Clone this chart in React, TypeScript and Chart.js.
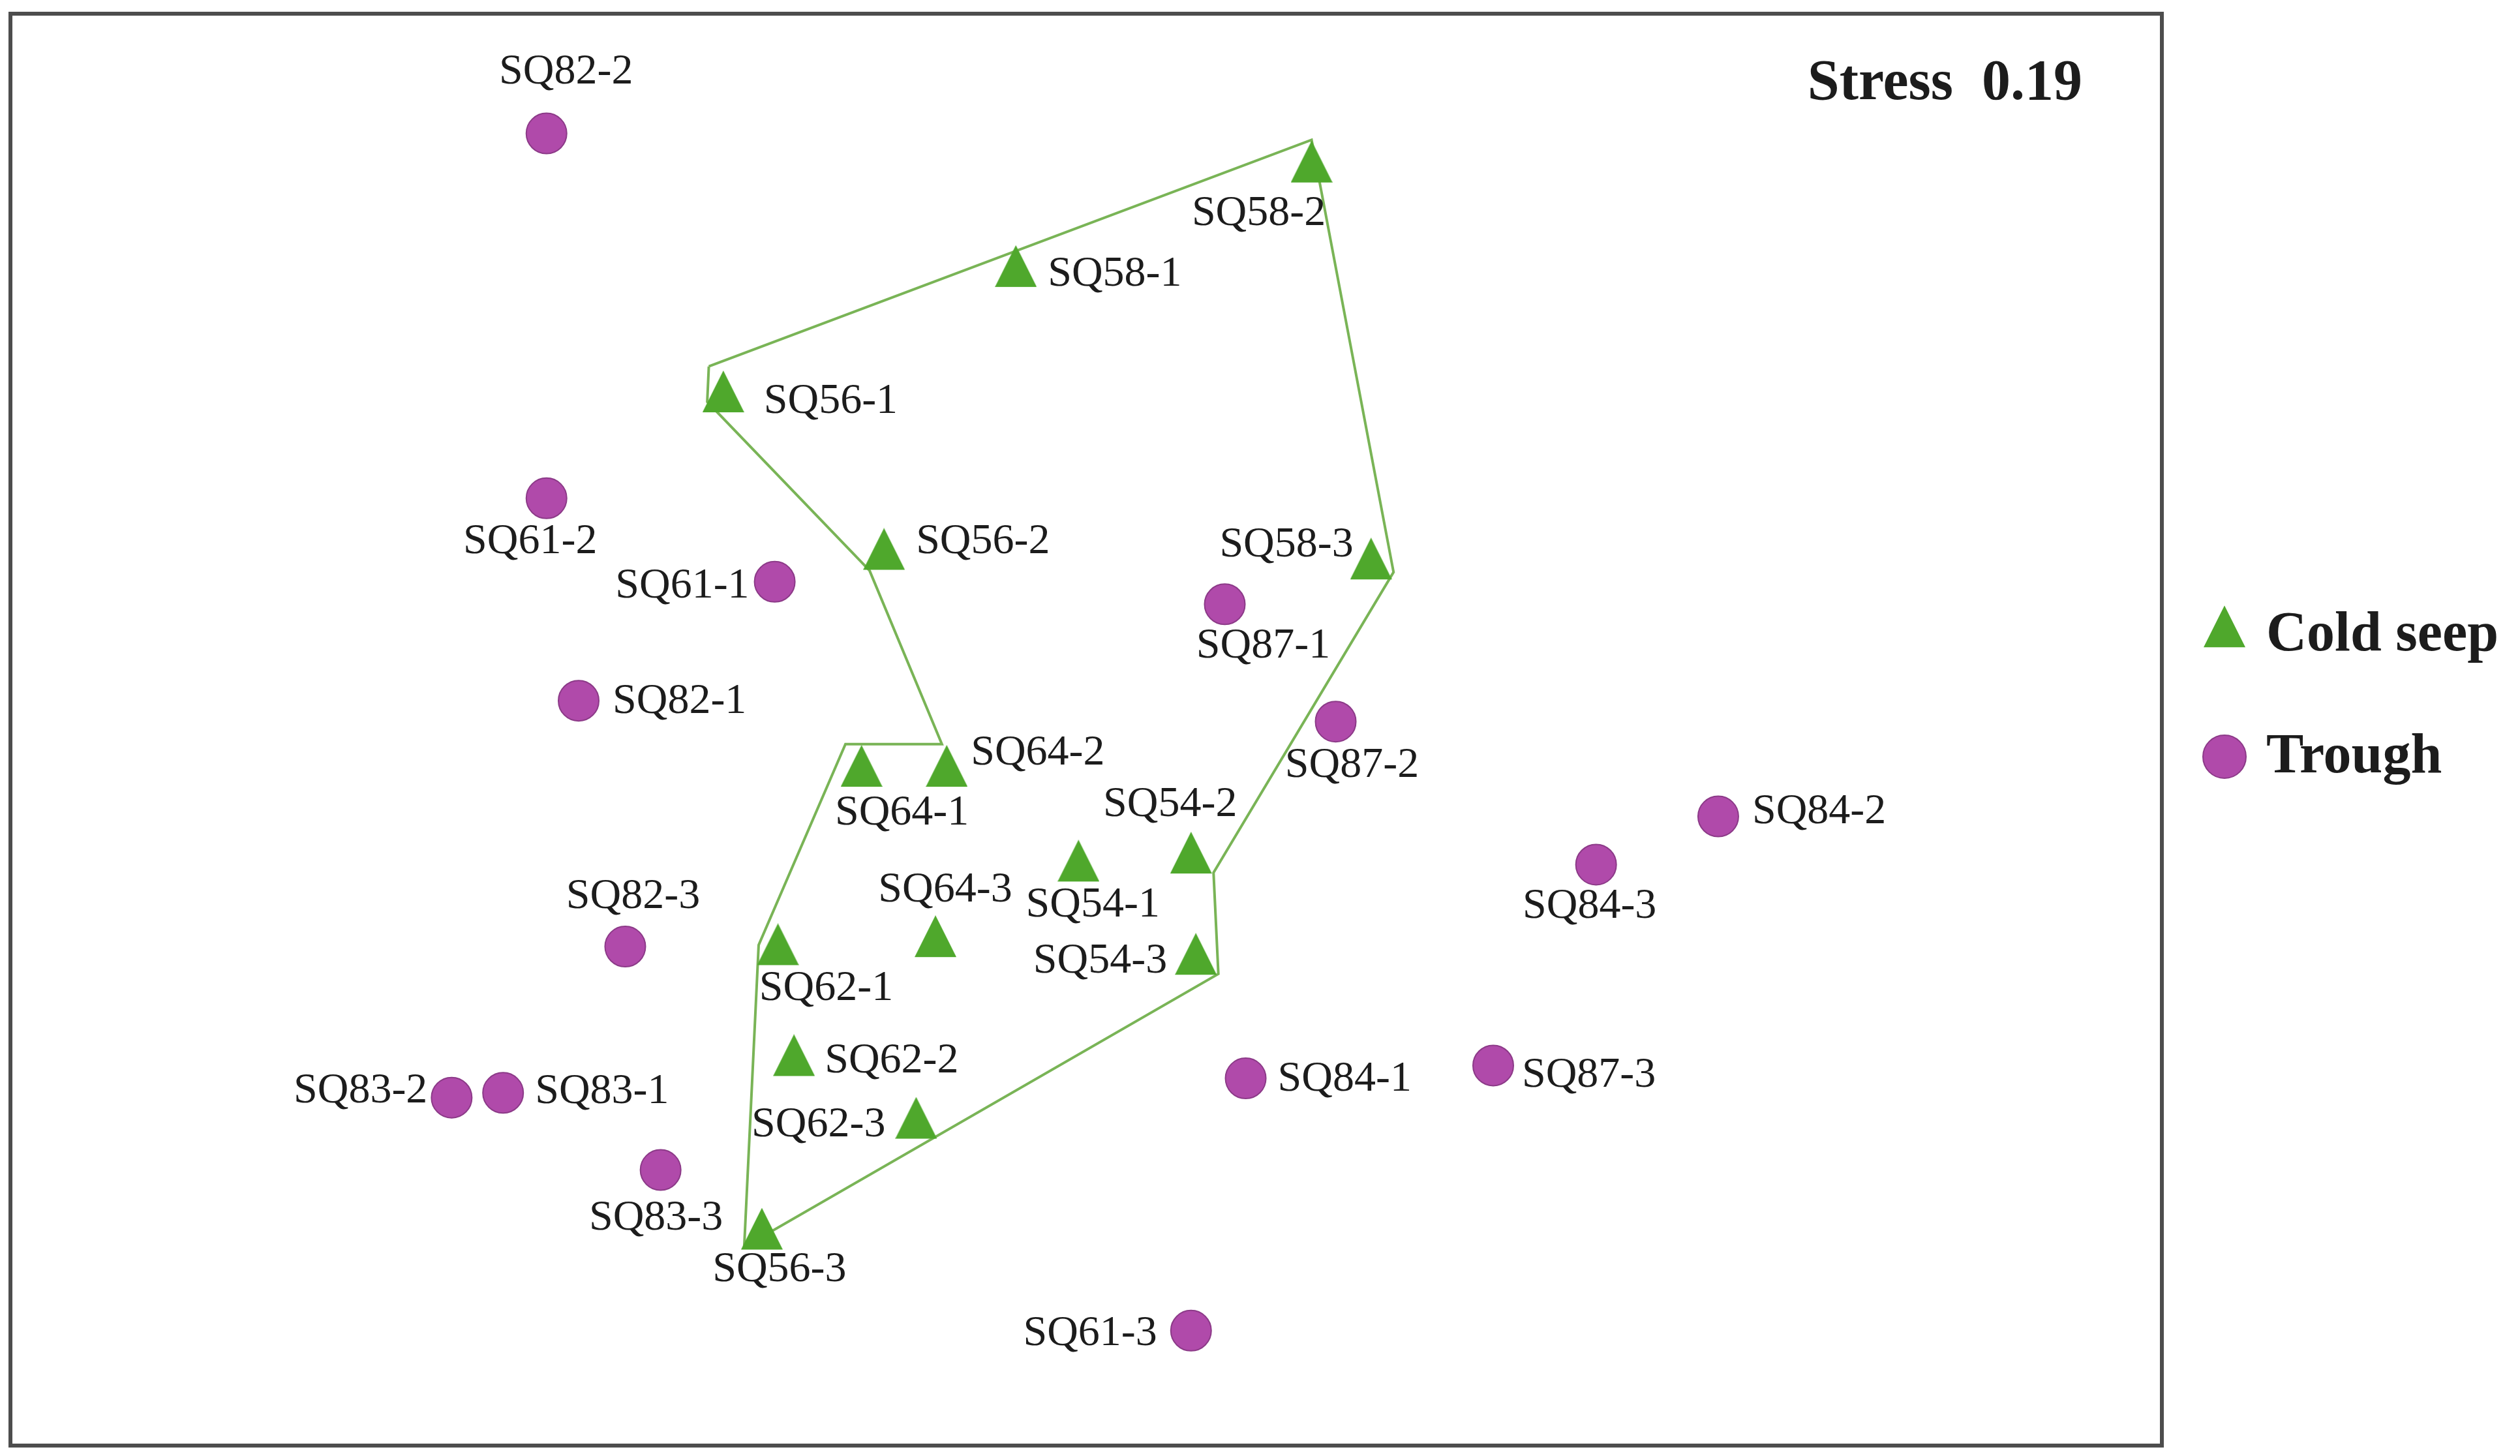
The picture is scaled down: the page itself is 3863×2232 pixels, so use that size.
import React, { useEffect, useRef } from "react";
import { Chart, registerables } from "chart.js";

Chart.register(...registerables);

// ---- Data (NMDS ordination coordinates) ----
const seepNames = ["SQ58-2", "SQ58-1", "SQ56-1", "SQ56-2", "SQ58-3", "SQ64-1", "SQ64-2", "SQ54-2", "SQ54-1", "SQ64-3", "SQ54-3", "SQ62-1", "SQ62-2", "SQ62-3", "SQ56-3"];
const seepX = [0.56, -0.176, -0.904, -0.504, 0.708, -0.56, -0.348, 0.26, -0.02, -0.376, 0.272, -0.768, -0.728, -0.424, -0.808];
const seepY = [1.4, 1.14, 0.828, 0.436, 0.412, -0.104, -0.104, -0.32, -0.34, -0.528, -0.572, -0.548, -0.824, -0.98, -1.256];

const troughNames = ["SQ82-2", "SQ61-2", "SQ61-1", "SQ82-1", "SQ87-1", "SQ87-2", "SQ84-2", "SQ84-3", "SQ82-3", "SQ83-2", "SQ83-1", "SQ83-3", "SQ84-1", "SQ87-3", "SQ61-3"];
const troughX = [-1.344, -1.344, -0.776, -1.264, 0.344, 0.62, 1.572, 1.268, -1.148, -1.58, -1.452, -1.06, 0.396, 1.012, 0.26];
const troughY = [1.488, 0.58, 0.372, 0.076, 0.316, 0.024, -0.212, -0.332, -0.536, -0.912, -0.9, -1.092, -0.864, -0.832, -1.492];

// Outline drawn around the cold seep group
const hullX = [-0.94, 0.56, 0.764, 0.316, 0.328, -0.852, -0.816, -0.6, -0.36, -0.54, -0.944, -0.94];
const hullY = [0.908, 1.472, 0.396, -0.352, -0.604, -1.284, -0.532, -0.032, -0.032, 0.4, 0.82, 0.908];

const seriesNames = ["Cold seep", "Trough"];
const stressText = "Stress  0.19";

const X_MIN = -2.678;
const X_MAX = 2.676;
const Y_MIN = -1.778;
const Y_MAX = 1.786;

// ---- Label placement (align, dx, dy in px) ----
const seepLabelPos: [string, number, number][] = [
  ["center", -81, 69], ["left", 49, 2], ["left", 62, 5], ["left", 49, -22], ["right", -27, -32],
  ["center", 62, 62], ["left", 37, -30], ["center", -32, -84], ["center", 22, 57], ["center", 15, -81],
  ["right", -44, 0], ["center", 74, 57], ["left", 47, -2], ["right", -47, 0], ["center", 27, 52],
];
const troughLabelPos: [string, number, number][] = [
  ["center", 30, -94], ["center", -25, 67], ["right", -39, 7], ["left", 52, 2], ["center", 59, 64],
  ["center", 25, 67], ["left", 52, -7], ["center", -10, 64], ["center", 12, -76], ["right", -37, -10],
  ["left", 49, -2], ["center", -7, 74], ["left", 49, 2], ["left", 44, 15], ["right", -52, 5],
];

const GREEN = "#4fa82c";
const PURPLE = "#b04aaa";
const PURPLE_EDGE = "#8c3a88";
const LINE_GREEN = "#79b456";
const TEXT = "#1c1c1c";
const FONT = "'Liberation Serif', 'Times New Roman', serif";

const W = 3847;
const H = 2216;
const TRI_W = 64;
const TRI_H = 64;

function makeTriangle(): HTMLCanvasElement {
  // canvas sized so that the point sits 2/3 of the way down from the apex
  const c = document.createElement("canvas");
  const ch = Math.round((TRI_H * 2) / 3) * 2;
  c.width = TRI_W;
  c.height = ch;
  const g = c.getContext("2d")!;
  g.fillStyle = GREEN;
  g.beginPath();
  g.moveTo(TRI_W / 2, 0);
  g.lineTo(TRI_W, TRI_H);
  g.lineTo(0, TRI_H);
  g.closePath();
  g.fill();
  return c;
}

const overlayPlugin = {
  id: "overlay",
  beforeDraw(chart: any) {
    const { ctx } = chart;
    ctx.save();
    ctx.fillStyle = "#ffffff";
    ctx.fillRect(0, 0, chart.width, chart.height);
    ctx.restore();
  },
  afterDatasetsDraw(chart: any) {
    const { ctx, chartArea } = chart;
    ctx.save();
    // frame
    ctx.strokeStyle = "#4d4d4d";
    ctx.lineWidth = 6;
    ctx.strokeRect(chartArea.left, chartArea.top, chartArea.right - chartArea.left, chartArea.bottom - chartArea.top);

    // point labels
    ctx.fillStyle = TEXT;
    ctx.font = `66px ${FONT}`;
    ctx.textBaseline = "middle";
    const drawLabels = (dsIndex: number, names: string[], pos: [string, number, number][]) => {
      const meta = chart.getDatasetMeta(dsIndex);
      meta.data.forEach((el: any, i: number) => {
        const p = pos[i];
        ctx.textAlign = p[0];
        ctx.fillText(names[i], el.x + p[1], el.y + p[2]);
      });
    };
    drawLabels(1, seepNames, seepLabelPos);
    drawLabels(2, troughNames, troughLabelPos);

    // stress
    ctx.font = `bold 88px ${FONT}`;
    ctx.textAlign = "right";
    ctx.fillText(stressText, chartArea.right - 122, chartArea.top + 108);

    // legend
    const lx = chartArea.right + 96;
    const ly1 = 963;
    const ly2 = 1152;
    ctx.fillStyle = GREEN;
    ctx.beginPath();
    ctx.moveTo(lx, ly1 - (TRI_H * 2) / 3);
    ctx.lineTo(lx + TRI_W / 2, ly1 + TRI_H / 3);
    ctx.lineTo(lx - TRI_W / 2, ly1 + TRI_H / 3);
    ctx.closePath();
    ctx.fill();
    ctx.fillStyle = PURPLE;
    ctx.strokeStyle = PURPLE_EDGE;
    ctx.lineWidth = 2;
    ctx.beginPath();
    ctx.arc(lx, ly2, 33, 0, Math.PI * 2);
    ctx.fill();
    ctx.stroke();
    ctx.fillStyle = TEXT;
    ctx.textAlign = "left";
    ctx.font = `bold 86px ${FONT}`;
    ctx.fillText(seriesNames[0], lx + 64, ly1 + 4);
    ctx.fillText(seriesNames[1], lx + 64, ly2 + 2);
    ctx.restore();
  },
};

export default function App() {
  const ref = useRef<HTMLCanvasElement | null>(null);
  useEffect(() => {
    if (!ref.current) return;
    const tri = makeTriangle();
    const chart = new Chart(ref.current, {
      type: "scatter",
      data: {
        datasets: [
          {
            label: "outline",
            data: hullX.map((x, i) => ({ x, y: hullY[i] })),
            showLine: true,
            borderColor: LINE_GREEN,
            borderWidth: 4,
            pointRadius: 0,
            fill: false,
            tension: 0,
            order: 3,
          } as any,
          {
            label: seriesNames[0],
            data: seepX.map((x, i) => ({ x, y: seepY[i] })),
            pointStyle: tri,
            pointRadius: 37,
            backgroundColor: GREEN,
            borderColor: GREEN,
            borderWidth: 0,
            order: 1,
          },
          {
            label: seriesNames[1],
            data: troughX.map((x, i) => ({ x, y: troughY[i] })),
            pointStyle: "circle",
            pointRadius: 31,
            backgroundColor: PURPLE,
            borderColor: PURPLE_EDGE,
            borderWidth: 2,
            order: 2,
          },
        ],
      },
      options: {
        responsive: false,
        animation: false,
        events: [],
        layout: { autoPadding: false, padding: { left: 8, top: 13, right: 541, bottom: 8 } },
        scales: {
          x: { type: "linear", min: X_MIN, max: X_MAX, display: false },
          y: { type: "linear", min: Y_MIN, max: Y_MAX, display: false },
        },
        plugins: {
          legend: { display: false },
          tooltip: { enabled: false },
          title: { display: false },
        },
      },
      plugins: [overlayPlugin],
    });
    return () => chart.destroy();
  }, []);
  return (
    <div style={{ width: W, height: H }}>
      <canvas ref={ref} width={W} height={H} style={{ display: "block" }} />
    </div>
  );
}
